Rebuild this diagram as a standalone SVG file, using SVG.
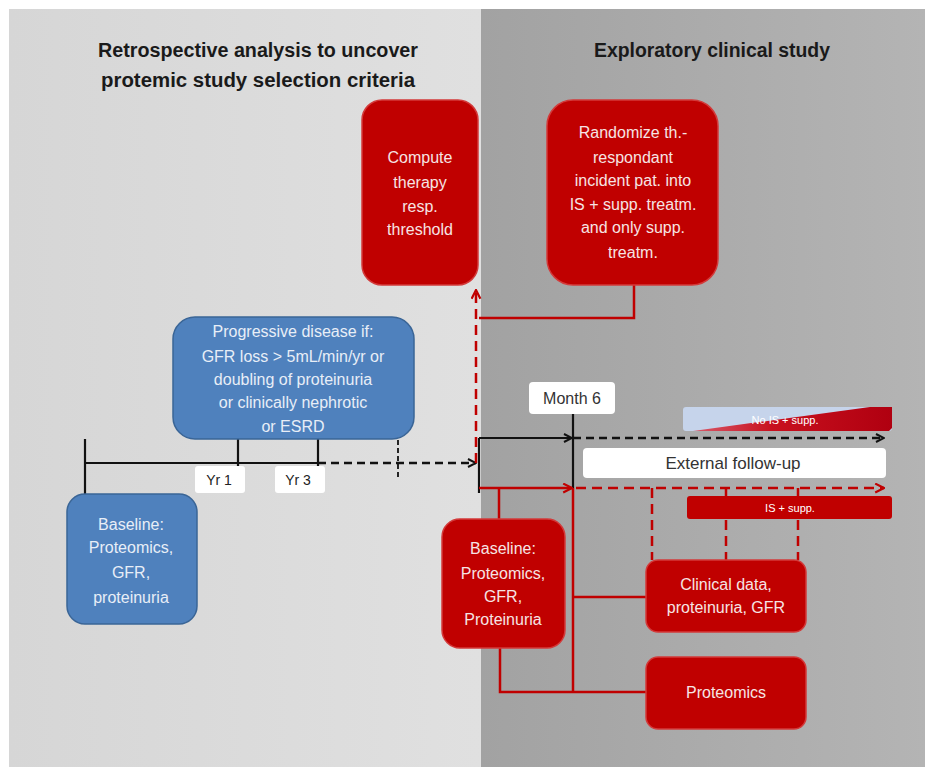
<svg xmlns="http://www.w3.org/2000/svg" width="934" height="767" viewBox="0 0 934 767">
<defs>
<linearGradient id="gl" x1="0" y1="0" x2="1" y2="0"><stop offset="0" stop-color="#d6d6d6"/><stop offset="1" stop-color="#e0e0e0"/></linearGradient>
<linearGradient id="gr" x1="0" y1="0" x2="1" y2="0"><stop offset="0" stop-color="#a2a2a2"/><stop offset="1" stop-color="#b4b4b4"/></linearGradient>
<linearGradient id="gred" x1="0" y1="0" x2="1" y2="0"><stop offset="0" stop-color="#d85a6a"/><stop offset="0.4" stop-color="#c8101e"/><stop offset="1" stop-color="#b00010"/></linearGradient>
<marker id="ab" viewBox="0 0 10 10" refX="9" refY="5" markerWidth="10" markerHeight="10" markerUnits="userSpaceOnUse" orient="auto"><path d="M1,1 L9,5 L1,9" fill="none" stroke="#111" stroke-width="2"/></marker>
<marker id="ar" viewBox="0 0 10 10" refX="9" refY="5" markerWidth="11" markerHeight="11" markerUnits="userSpaceOnUse" orient="auto"><path d="M1,1 L9,5 L1,9" fill="none" stroke="#c00000" stroke-width="2"/></marker>
<style>
.t{font-family:"Liberation Sans",Arial,sans-serif;text-anchor:middle}
.title{font-weight:bold;font-size:20px;fill:#1a1a1a}
.red{fill:#c00000;stroke:#d33a3a;stroke-width:1.5}
.blue{fill:#4f81bd;stroke:#3a6596;stroke-width:1.5}
.wt{fill:#f6e4e4;font-size:16px}
.bt{fill:#e8eef7;font-size:16px}
.lbl{fill:#ffffff}
.dk{fill:#333333;font-size:16px}
.kb{stroke:#111;stroke-width:2.2;fill:none}
.kd{stroke:#111;stroke-width:2.5;fill:none;stroke-dasharray:8 5}
.rs{stroke:#c00000;stroke-width:2.5;fill:none}
.rd{stroke:#c00000;stroke-width:2.5;fill:none;stroke-dasharray:10 6}
</style>
</defs>
<rect x="0" y="0" width="934" height="767" fill="#ffffff"/>
<rect x="9" y="9" width="472" height="758" fill="url(#gl)"/>
<rect x="481" y="9" width="444" height="758" fill="url(#gr)"/>

<g id="titles">
<text class="t title" x="258" y="57" textLength="320" lengthAdjust="spacingAndGlyphs">Retrospective analysis to uncover</text>
<text class="t title" x="258" y="87" textLength="314" lengthAdjust="spacingAndGlyphs">protemic study selection criteria</text>
<text class="t title" x="712" y="57" textLength="236" lengthAdjust="spacingAndGlyphs">Exploratory clinical study</text>
</g>

<g id="connectors">
<line class="kb" x1="85" y1="463" x2="318" y2="463"/>
<line class="kd" x1="318" y1="463" x2="476" y2="463" marker-end="url(#ab)"/>
<line class="kb" x1="85" y1="439" x2="85" y2="494"/>
<line class="kb" x1="238" y1="439" x2="238" y2="478"/>
<line class="kb" x1="318" y1="439" x2="318" y2="478"/>
<line stroke="#111" stroke-width="1.8" stroke-dasharray="5 3" x1="398" y1="440" x2="398" y2="478"/>
<line class="rd" x1="476" y1="463" x2="476" y2="290" marker-end="url(#ar)"/>
<polyline class="rs" points="634,285 634,318 479,318"/>
<line class="kb" x1="479" y1="438" x2="479" y2="493"/>
<line class="kb" x1="479" y1="438" x2="572" y2="438" marker-end="url(#ab)"/>
<line class="kb" x1="573" y1="414" x2="573" y2="488"/>
<line class="kd" x1="573" y1="438" x2="884" y2="438" marker-end="url(#ab)"/>
<line class="rs" x1="479" y1="488" x2="572" y2="488" marker-end="url(#ar)"/>
<line class="rd" x1="576" y1="488" x2="884" y2="488" marker-end="url(#ar)"/>
<line class="rs" x1="573" y1="488" x2="573" y2="692"/>
<line class="rs" x1="499" y1="488" x2="499" y2="520"/>
<polyline class="rs" points="500,648 500,692 646,692"/>
<line class="rs" x1="573" y1="597" x2="646" y2="597"/>
<line class="rd" x1="652" y1="488" x2="652" y2="560"/>
<line class="rd" x1="726" y1="488" x2="726" y2="560"/>
<line class="rd" x1="798" y1="488" x2="798" y2="560"/>
</g>

<g id="compute">
<rect class="red" x="362" y="100" width="116" height="185" rx="20"/>
<text class="t wt" x="420" y="163">Compute</text>
<text class="t wt" x="420" y="188">therapy</text>
<text class="t wt" x="420" y="212">resp.</text>
<text class="t wt" x="420" y="235">threshold</text>
</g>

<g id="randomize">
<rect class="red" x="547" y="100" width="171" height="185" rx="26"/>
<text class="t wt" x="633" y="138">Randomize th.-</text>
<text class="t wt" x="633" y="163">respondant</text>
<text class="t wt" x="633" y="186">incident pat. into</text>
<text class="t wt" x="633" y="210">IS + supp. treatm.</text>
<text class="t wt" x="633" y="233">and only supp.</text>
<text class="t wt" x="633" y="258">treatm.</text>
</g>

<g id="progressive">
<rect class="blue" x="173" y="317" width="241" height="122" rx="22"/>
<text class="t bt" x="293" y="337">Progressive disease if:</text>
<text class="t bt" x="293" y="362">GFR loss &gt; 5mL/min/yr or</text>
<text class="t bt" x="293" y="385">doubling of proteinuria</text>
<text class="t bt" x="293" y="408">or clinically nephrotic</text>
<text class="t bt" x="293" y="432">or ESRD</text>
</g>

<g id="yr1">
<rect x="195" y="466" width="50" height="27" rx="3" fill="#ffffff"/>
<text class="t" x="219" y="485" font-size="14" fill="#222">Yr 1</text>
</g>
<g id="yr3">
<rect x="275" y="466" width="50" height="27" rx="3" fill="#ffffff"/>
<text class="t" x="298" y="485" font-size="14" fill="#222">Yr 3</text>
</g>

<g id="baseline-left">
<rect class="blue" x="67" y="494" width="130" height="130" rx="18"/>
<text class="t bt" x="131" y="530">Baseline:</text>
<text class="t bt" x="131" y="553">Proteomics,</text>
<text class="t bt" x="131" y="578">GFR,</text>
<text class="t bt" x="131" y="603">proteinuria</text>
</g>

<g id="month6">
<rect x="529" y="382" width="86" height="32" rx="4" fill="#ffffff"/>
<text class="t dk" x="572" y="404">Month 6</text>
</g>

<g id="no-is">
<rect x="683" y="407" width="209" height="24" rx="3" fill="#c6d4eb"/>
<polygon points="693,431 889,431 892,428 892,407 870,407" fill="url(#gred)"/>
<text class="t lbl" x="785" y="424" font-size="11">No IS + supp.</text>
</g>

<g id="external">
<rect x="583" y="448" width="303" height="30" rx="4" fill="#ffffff"/>
<text class="t dk" x="733" y="469" font-size="17" style="font-size:17px">External follow-up</text>
</g>

<g id="is-supp">
<rect x="687" y="496" width="205" height="23" rx="3" fill="#c00000"/>
<text class="t lbl" x="790" y="512" font-size="11">IS + supp.</text>
</g>

<g id="baseline-right">
<rect class="red" x="442" y="519" width="123" height="129" rx="18"/>
<text class="t wt" x="503" y="554">Baseline:</text>
<text class="t wt" x="503" y="579">Proteomics,</text>
<text class="t wt" x="503" y="602">GFR,</text>
<text class="t wt" x="503" y="625">Proteinuria</text>
</g>

<g id="clinical">
<rect class="red" x="646" y="560" width="160" height="72" rx="12"/>
<text class="t wt" x="726" y="590">Clinical data,</text>
<text class="t wt" x="726" y="613">proteinuria, GFR</text>
</g>

<g id="proteomics">
<rect class="red" x="646" y="657" width="160" height="72" rx="12"/>
<text class="t wt" x="726" y="698">Proteomics</text>
</g>
</svg>
